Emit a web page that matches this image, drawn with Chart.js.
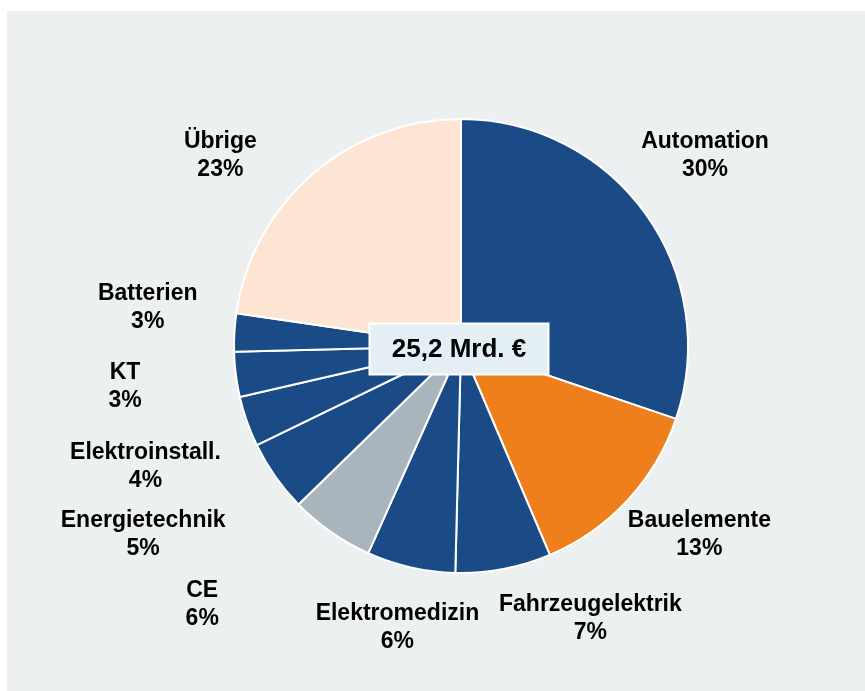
<!DOCTYPE html>
<html>
<head>
<meta charset="utf-8">
<script src="https://cdn.jsdelivr.net/npm/chart.js@4/dist/chart.umd.min.js"></script>
<style>
  html, body { margin: 0; padding: 0; background: #ffffff; }
  #panel { position: absolute; left: 7px; top: 11px; width: 858px; height: 680px; background: #ecf0f1; }
  #wrap { position: absolute; left: 0; top: 0; width: 865px; height: 691px; }
</style>
</head>
<body>
<div id="panel"></div>
<div id="wrap"><canvas id="umsatz"></canvas></div>
<script>
const segmente = ['Automation', 'Bauelemente', 'Fahrzeugelektrik', 'Elektromedizin', 'CE',
  'Energietechnik', 'Elektroinstall.', 'KT', 'Batterien', 'Übrige'];
const anteile = [30.2, 13.4, 6.8, 6.3, 6.0, 5.1, 3.6, 3.2, 2.7, 22.7];
const farben = ['#1a4b87', '#ef7f1a', '#1a4b87', '#1a4b87', '#a9b5bd',
  '#1a4b87', '#1a4b87', '#1a4b87', '#1a4b87', '#fde4d3'];
const gesamt = '25,2 Mrd. €';

// Beschriftungen: Versatz zur Kreismitte in Radien
const labelVersatz = [
  [1.075, -0.84], [1.05, 0.83], [0.57, 1.20], [-0.28, 1.24], [-1.14, 1.14],
  [-1.40, 0.83], [-1.39, 0.53], [-1.48, 0.18], [-1.38, -0.17], [-1.06, -0.84]
];

const schrift = 'bold 23px "Liberation Sans", Arial, sans-serif';

const beschriftung = {
  id: 'beschriftung',
  afterDraw(chart) {
    const ctx = chart.ctx;
    const bogen = chart.getDatasetMeta(0).data;
    const cx = bogen[0].x, cy = bogen[0].y, r = bogen[0].outerRadius;
    ctx.save();
    ctx.fillStyle = '#000000';
    ctx.font = schrift;
    ctx.textAlign = 'center';
    ctx.textBaseline = 'middle';
    bogen.forEach((b, i) => {
      const x = cx + labelVersatz[i][0] * r;
      const y = cy + labelVersatz[i][1] * r;
      ctx.fillText(segmente[i], x, y - 14);
      ctx.fillText(Math.round(anteile[i]) + '%', x, y + 14);
    });

    // Gesamtbox in der Mitte
    const bw = 179, bh = 51;
    const bx = cx - 2 - bw / 2, by = cy + 3 - bh / 2;
    ctx.fillStyle = '#e3eef5';
    ctx.fillRect(bx, by, bw, bh);
    ctx.strokeStyle = '#ffffff';
    ctx.lineWidth = 2;
    ctx.strokeRect(bx, by, bw, bh);
    ctx.fillStyle = '#000000';
    ctx.font = 'bold 26px "Liberation Sans", Arial, sans-serif';
    ctx.fillText(gesamt, cx - 2, cy + 4);
    ctx.restore();
  }
};

new Chart(document.getElementById('umsatz'), {
  type: 'pie',
  data: {
    labels: segmente,
    datasets: [{
      data: anteile,
      backgroundColor: farben,
      borderColor: '#ffffff',
      borderWidth: 2
    }]
  },
  options: {
    responsive: true,
    maintainAspectRatio: false,
    animation: false,
    layout: { padding: { left: 233, right: 176, top: 117, bottom: 116 } },
    plugins: {
      legend: { display: false },
      tooltip: { enabled: false }
    }
  },
  plugins: [beschriftung]
});
</script>
</body>
</html>
